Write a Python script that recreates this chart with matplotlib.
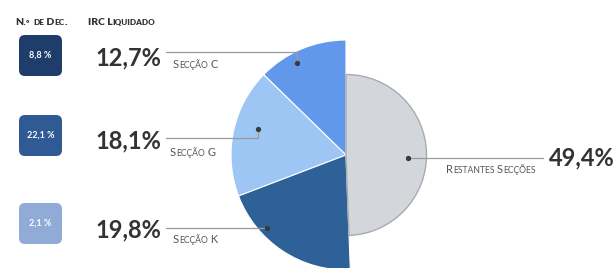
import numpy as np
import matplotlib.pyplot as plt
from matplotlib.patches import FancyBboxPatch

# data
sections = ['Secção C', 'Secção G', 'Secção K', 'Restantes Secções']
irc = [12.7, 18.1, 19.8, 49.4]
n_dec = [8.8, 22.1, 2.1]

pie_colors = ['#6198ec', '#9dc6f5', '#2f6199', '#d3d7db']
box_colors = ['#1f3d6a', '#2f5a93', '#90abd6']

W, H = 616, 268
fig = plt.figure(figsize=(W / 100, H / 100), dpi=100)

# pie, centre and radius in pixels
cx, cy, R = 346, 155, 115
pax = fig.add_axes([(cx - R) / W, (H - cy - R) / H, 2 * R / W, 2 * R / H])
wedges, _ = pax.pie(irc, colors=pie_colors, startangle=90, counterclock=True,
                    radius=1, wedgeprops=dict(edgecolor='white', linewidth=0.8))
wedges[3].set_radius(0.70)
wedges[3].set_edgecolor('#a8acb1')
wedges[3].set_linewidth(1.0)
pax.set_xlim(-1, 1)
pax.set_ylim(-1, 1)
pax.axis('off')

# overlay in pixel units (y down)
ov = fig.add_axes([0, 0, 1, 1])
ov.set_xlim(0, W)
ov.set_ylim(H, 0)
ov.axis('off')
ov.patch.set_alpha(0)
rend = fig.canvas.get_renderer()

FONT = 'Lato'
TXT = '#333333'
LAB = '#555555'


def small_caps(x, y, s, size, color, weight='normal'):
    # uppercase stays big, lowercase drawn as smaller capitals
    runs = []
    for ch in s:
        big = not ch.islower()
        if runs and runs[-1][1] == big:
            runs[-1][0] += ch
        else:
            runs.append([ch, big])
    for txt, big in runs:
        fs = size if big else size * 0.78
        t = ov.text(x, y, txt.upper(), fontsize=fs, color=color, fontweight=weight,
                    family=FONT, va='baseline', ha='left')
        w = t.get_window_extent(rend).width
        if txt.endswith(' '):
            w += fs * 0.3
        x += w


def wedge_point(w, frac, r):
    a = np.deg2rad(w.theta1 + frac * (w.theta2 - w.theta1))
    return cx + R * r * np.cos(a), cy - R * r * np.sin(a)


# headers
small_caps(15, 25, 'N.º de Dec.', 7.5, TXT, 'heavy')
small_caps(88, 25, 'IRC Liquidado', 7.5, TXT, 'heavy')

# boxes with number of declarations
box_top = [35, 115, 203]
for i, v in enumerate(n_dec):
    b = FancyBboxPatch((19, box_top[i]), 43, 41,
                       boxstyle='round,pad=0,rounding_size=6',
                       fc=box_colors[i], ec='none')
    ov.add_patch(b)
    ov.text(40.5, box_top[i] + 20.5, f'{v:.1f} %'.replace('.', ','), color='white',
            fontsize=6.5, fontweight='bold', family=FONT, ha='center', va='center')

# left labels for C, G, K
line_y = [52, 138, 228]
pct_base = [65, 148, 237]
lab_base = [68, 156, 243]
lab_x = [173, 170, 173]
dot_pos = [(0.61, 0.905), (0.43, 0.80), (0.31, 0.935)]
for i in range(3):
    ov.text(95, pct_base[i], f'{irc[i]:.1f}%'.replace('.', ','), fontsize=17,
            fontweight='bold', family=FONT, color=TXT, va='baseline', ha='left')
    small_caps(lab_x[i], lab_base[i], sections[i], 8, LAB)
    dx, dy = wedge_point(wedges[i], *dot_pos[i])
    ov.plot([166, dx, dx], [line_y[i], line_y[i], dy], color='#9a9a9a', lw=0.9)
    ov.plot(dx, dy, 'o', color='#3a3a3a', ms=2.8)

# right label for remaining sections
gx, gy = wedge_point(wedges[3], 0.48, 0.54)
ov.plot([gx, 543], [gy, gy], color='#9a9a9a', lw=0.9)
ov.plot(gx, gy, 'o', color='#3a3a3a', ms=2.8)
small_caps(446, 173, sections[3], 8, LAB)
ov.text(549, 165, f'{irc[3]:.1f}%'.replace('.', ','), fontsize=17,
        fontweight='bold', family=FONT, color=TXT, va='baseline', ha='left')

fig.savefig('out.png', dpi=100)
